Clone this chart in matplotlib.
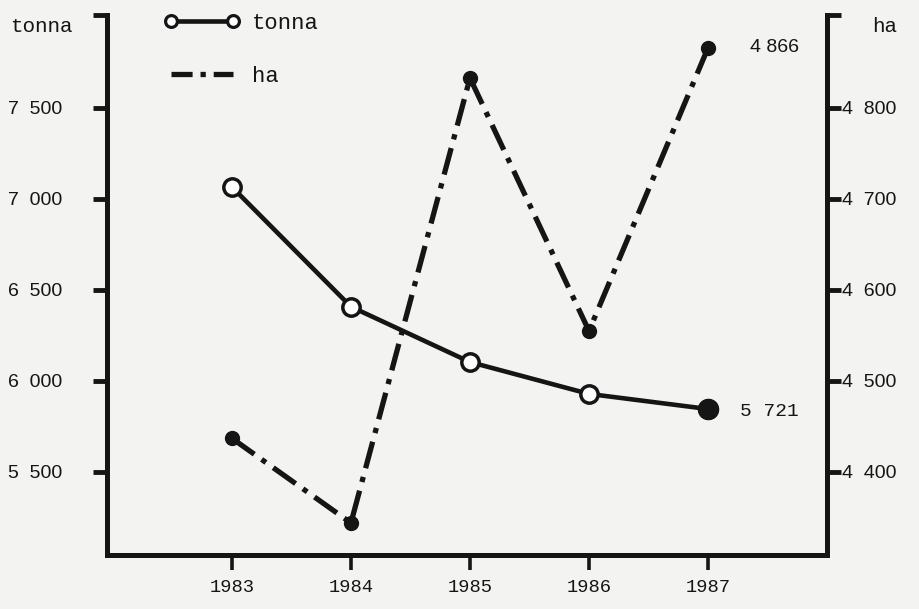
import matplotlib
matplotlib.use("Agg")
import matplotlib.pyplot as plt
from matplotlib.lines import Line2D

# ---- data ----
years = [1983, 1984, 1985, 1986, 1987]
tonna = [7066, 6408, 6104, 5929, 5846]
ha = [4437, 4344, 4833, 4555, 4866]
left_ticks = [5500, 6000, 6500, 7000, 7500]
left_labels = ["5  500", "6  000", "6  500", "7  000", "7  500"]
right_ticks = [4400, 4500, 4600, 4700, 4800]
right_labels = ["4  400", "4  500", "4  600", "4  700", "4  800"]
year_labels = ["1983", "1984", "1985", "1986", "1987"]
tonna_end_label = "5 721"
ha_end_label = "4 866"

INK = "#151515"
PAPER = "#f3f3f1"
MONO = "Liberation Mono"
SANS = "Liberation Sans"

fig = plt.figure(figsize=(9.19, 6.09), dpi=100, facecolor=PAPER)
ax = fig.add_axes([0.1164, 0.0887, 0.7835, 0.8867])
ax.set_facecolor(PAPER)
ax2 = ax.twinx()

ax.set_xlim(1981.95, 1988.0)
ax.set_ylim(5044, 8011)
ax2.set_ylim(4308.8, 4902.2)

# tonna series (solid, open circles, last filled)
ax.plot(years, tonna, color=INK, lw=3.3, marker="o", ms=12.5, mfc="white",
        mec=INK, mew=2.5, solid_capstyle="round", zorder=3)
ax.plot(years[-1:], tonna[-1:], linestyle="none", marker="o", ms=14.5,
        mfc=INK, mec=INK, zorder=4)

# ha series (dash-dot, filled dots)
ax2.plot(years, ha, color=INK, lw=3.8, dashes=(5.2, 1.7, 1.0, 1.7),
         dash_capstyle="butt", marker="o", ms=10, mfc=INK, mec=INK, zorder=3)

# annotations
ax.annotate(tonna_end_label, xy=(years[-1], tonna[-1]), xytext=(23, -2),
            textcoords="offset points", va="center", ha="left",
            fontsize=14, family=MONO, color=INK)
ax2.annotate(ha_end_label, xy=(years[-1], ha[-1]), xytext=(30, 0),
             textcoords="offset points", va="center", ha="left",
             fontsize=14, family=SANS, color=INK)

# axes styling
ax.set_xticks(years)
ax.set_xticklabels(year_labels, family=MONO, fontsize=13.5, color=INK)
ax.set_yticks(left_ticks + [8011])
ax.set_yticklabels(left_labels + [""], family=SANS, fontsize=14, color=INK)
ax2.set_yticks(right_ticks + [4902.2])
ax2.set_yticklabels(right_labels + [""], family=SANS, fontsize=14, color=INK)

ax.tick_params(axis="y", direction="out", length=10, width=3.5, pad=22, color=INK)
ax.tick_params(axis="x", direction="out", length=11, width=2.6, pad=6, color=INK)
ax2.tick_params(axis="y", direction="out", length=10, width=3.5, pad=1, color=INK)

for a in (ax, ax2):
    for s in a.spines.values():
        s.set_visible(False)
for name in ("left", "bottom"):
    ax.spines[name].set_visible(True)
    ax.spines[name].set_linewidth(3.6)
    ax.spines[name].set_color(INK)
    ax.spines[name].set_capstyle("projecting")
ax2.spines["right"].set_visible(True)
ax2.spines["right"].set_linewidth(3.6)
ax2.spines["right"].set_color(INK)
ax2.spines["right"].set_capstyle("projecting")

# axis unit labels
fig.text(10 / 919, 1 - 27 / 609, "tonna", family=MONO, fontsize=15,
         va="center", ha="left", color=INK)
fig.text(872 / 919, 1 - 27 / 609, "ha", family=MONO, fontsize=15,
         va="center", ha="left", color=INK)

# legend
handles = [
    Line2D([0], [0], color=INK, lw=3.3, marker="o", ms=8.5, mfc="white",
           mec=INK, mew=2.3),
    Line2D([0], [0], color=INK, lw=3.8, dashes=(4.0, 1.5, 1.0, 1.5)),
]
ax2.legend(handles, ["tonna", "ha"], loc="upper left",
           bbox_to_anchor=(0.08, 1.004), frameon=False, numpoints=2,
           handlelength=3.4, handletextpad=0.55, labelspacing=1.45,
           borderpad=0, borderaxespad=0,
           prop={"family": MONO, "size": 16}, labelcolor=INK)

fig.savefig("out.png", dpi=100, facecolor=PAPER)
